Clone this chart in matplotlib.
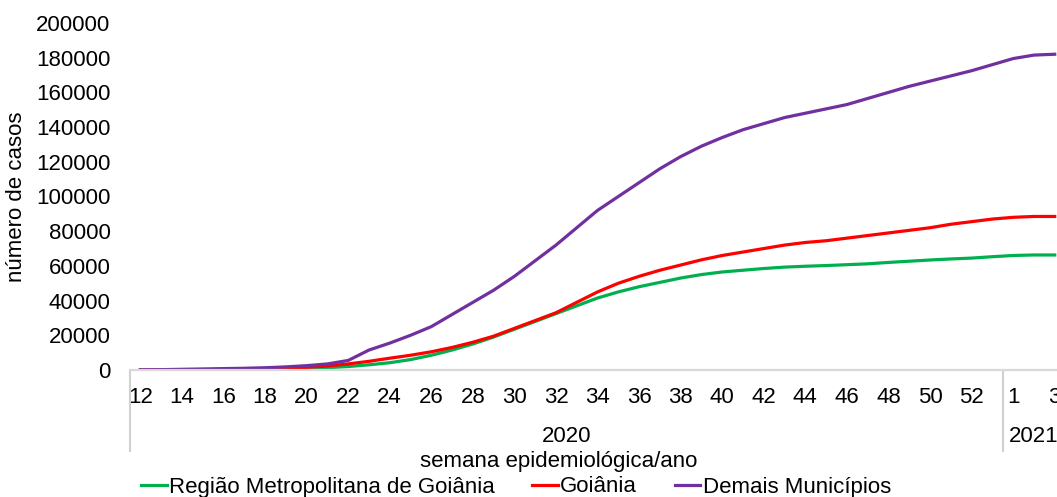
import matplotlib
matplotlib.use("Agg")
import matplotlib.pyplot as plt
import matplotlib.transforms as mtransforms

plt.rcParams['font.family'] = ['Liberation Sans', 'DejaVu Sans']

# Epidemiological weeks: 12-53 of 2020, then 1-3 of 2021
weeks_2020 = list(range(12, 54))
weeks_2021 = [1, 2, 3]
week_labels = [str(w) for w in weeks_2020 + weeks_2021]

regiao_metropolitana = [
    0, 0, 50, 100, 150, 250, 400, 600, 900, 1300, 2000, 3000, 4200, 6000,
    8500, 11500, 15000, 19000, 23500, 28000, 32500, 37000, 41500, 45000,
    48000, 50500, 53000, 55000, 56500, 57500, 58500, 59300, 59800, 60200,
    60700, 61200, 62000, 62700, 63400, 64000, 64500, 65300,
    66000, 66300, 66300,
]
goiania = [
    0, 50, 100, 200, 300, 500, 700, 1000, 1500, 2300, 3500, 5000, 6800, 8500,
    10500, 13000, 16000, 19500, 24000, 28500, 33000, 39000, 45000, 50000,
    54000, 57500, 60500, 63500, 66000, 68000, 70000, 72000, 73500, 74500,
    76000, 77500, 79000, 80500, 82000, 84000, 85500, 87000,
    88000, 88500, 88500,
]
demais_municipios = [
    100, 200, 400, 600, 800, 1000, 1300, 1800, 2500, 3500, 5500, 11500, 15500,
    20000, 25000, 32000, 39000, 46000, 54000, 63000, 72000, 82000, 92000,
    100000, 108000, 116000, 123000, 129000, 134000, 138500, 142000, 145500,
    148000, 150500, 153000, 156500, 160000, 163500, 166500, 169500, 172500,
    176000, 179500, 181500, 182000,
]

series_names = ["Região Metropolitana de Goiânia", "Goiânia", "Demais Municípios"]
series_colors = ["#00B050", "#FF0000", "#7030A0"]
y_ticks = list(range(0, 200001, 20000))

W, H = 1057, 497
fig = plt.figure(figsize=(W / 100, H / 100), dpi=100)
n = len(week_labels)
ax_left = 130 / W
ax_right = (130 + n * 20.78) / W
ax = fig.add_axes([ax_left, 1 - 370 / H, ax_right - ax_left, 347 / H])

x = list(range(n))
lines = []
for vals, name, col in zip([regiao_metropolitana, goiania, demais_municipios],
                           series_names, series_colors):
    ln, = ax.plot(x, vals, color=col, lw=2.3, label=name,
                  solid_joinstyle='round')
    lines.append(ln)

ax.set_xlim(-0.5, n - 0.5)
ax.set_ylim(0, 200000)
ax.set_yticks(y_ticks)
ax.set_yticklabels([str(v) for v in y_ticks], fontsize=16)
ax.set_xticks(x[::2])
ax.set_xticklabels(week_labels[::2], fontsize=16)
ax.tick_params(axis='both', length=0)
ax.tick_params(axis='y', pad=14)
ax.tick_params(axis='x', pad=12)

for side in ['top', 'right', 'left']:
    ax.spines[side].set_visible(False)
ax.spines['bottom'].set_color('#D9D9D9')
ax.spines['bottom'].set_linewidth(1.6)

# Year group separators and labels below the week ticks
trans = mtransforms.blended_transform_factory(ax.transData, ax.transAxes)
n2020 = len(weeks_2020)
for xs in [-0.5, n2020 - 0.5]:
    ax.plot([xs, xs], [0, -0.232], transform=trans, color='#D0D0D0',
            lw=1.5, clip_on=False)
ax.text((n2020 - 1) / 2, -0.193, "2020", transform=trans, ha='center',
        va='center', fontsize=16)
ax.text(n2020 + (len(weeks_2021) - 1) / 2, -0.193, "2021", transform=trans,
        ha='center', va='center', fontsize=16)

fig.text(559 / W, 1 - 462 / H, "semana epidemiológica/ano", ha='center',
         va='center', fontsize=16)
fig.text(17 / W, 1 - 197 / H, "número de casos", ha='center', va='center',
         rotation=90, fontsize=16)

fig.legend(handles=lines, loc='center', bbox_to_anchor=(516 / W, 1 - 487 / H),
           ncol=3, frameon=False, fontsize=16, handlelength=1.15,
           handletextpad=0.1, columnspacing=1.7, borderpad=0, borderaxespad=0)

fig.savefig("out.png", dpi=100)
